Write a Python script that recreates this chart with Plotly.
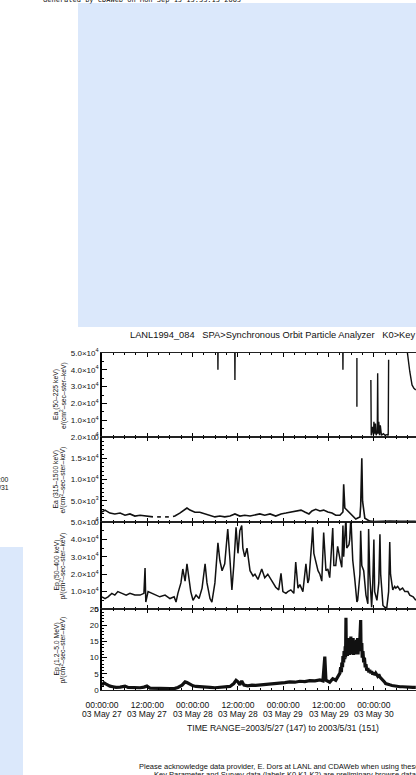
import pandas as pd
import plotly.graph_objects as go

W, H = 416, 775
BASE = pd.Timestamp("2003-05-27 00:00:00")

# ---------------- data (hours after 2003-05-27 00:00, flux) ----------------
ea1_hours = [0.0, 30.6, 30.7, 30.8, 35.1, 35.2, 35.3, 63.7, 63.8, 63.9, 64.0, 67.5, 67.5, 67.6,
             71.2, 71.3, 71.6, 71.9, 72.0, 72.2, 72.4, 72.6, 72.9, 73.0, 73.1, 73.3, 73.5, 73.7,
             74.0, 74.5, 75.0, 75.5, 75.8, 75.9, 76.0, 80.6, 81.0, 81.5, 82.1, 82.6, 83.1]
ea1_values = [7e4, 7e4, 4.0e4, 7e4, 7e4, 3.4e4, 7e4, 7e4, 4.0e4, 7e4, None, 4.7e4, 1.8e4, None,
              3.4e4, 0.1e4, 0.6e4, 0.1e4, 0.9e4, 0.2e4, 0.8e4, 0.1e4, 0.3e4, 3.8e4, 0.2e4, 0.9e4, 0.1e4, 0.7e4,
              0.1e4, 0.2e4, 0.1e4, 0.15e4, 0.1e4, 4.6e4, None, 5.5e4, 4.6e4, 3.9e4, 3.1e4, 2.9e4, 2.8e4]

ea2_hours = [0.0, 0.8, 2.1, 3.4, 4.8, 6.1, 7.4, 8.7, 10.1, 11.4, 12.7, 13.5, 13.8, 14.6, 15.6, 15.9,
             16.7, 17.7, 18.0, 18.8, 19.3, 20.6, 22.0, 22.5, 23.3, 24.6, 25.9, 27.3, 28.6, 29.9,
             31.2, 32.5, 33.9, 35.2, 36.5, 37.8, 39.2, 40.5, 41.8, 43.1, 44.5, 46.0, 47.4, 48.7,
             50.0, 51.3, 52.7, 53.7, 54.8, 55.6, 56.6, 57.7, 58.7, 59.8, 60.9, 61.9, 63.0, 63.8,
             64.0, 64.3, 65.1, 66.2, 67.2, 68.3, 68.5, 68.8, 69.0, 69.6, 70.9, 72.2, 73.6, 76.2,
             78.9, 81.5, 83.1]
ea2_values = [2350, 2800, 2100, 1900, 2100, 1600, 1900, 1400, 1600, 1400, 1200, 1200, None, 1200, 1200, None,
              1200, 1200, None, 1300, 1400, 2100, 3000, 3300, 2800, 2300, 2300, 1900, 1400, 1200,
              1400, 1200, 1400, 1900, 1400, 1600, 1400, 1600, 1900, 1600, 1900, 1400, 1900, 2100,
              2350, 2600, 2800, 2350, 1900, 2600, 3000, 2600, 2800, 2350, 2100, 1600, 1600, 2350,
              8900, 3300, 2600, 1600, 700, 1200, 3800, 15000, 4900, 900, 200, 100, 150, 200,
              150, 200, 150]

ep1_hours = [0.0, 0.8, 1.6, 2.6, 3.4, 4.2, 5.3, 6.4, 7.4, 8.7, 10.1, 11.1, 11.4, 11.6, 12.2, 13.2,
             14.3, 15.3, 16.7, 18.0, 19.1, 19.6, 20.1, 20.9, 21.4, 22.0, 22.5, 23.0, 23.5, 24.1,
             24.9, 25.7, 26.5, 27.3, 27.8, 28.6, 29.1, 29.9, 30.7, 31.2, 31.8, 32.5, 33.3, 33.9,
             34.4, 34.9, 35.5, 36.0, 36.5, 37.0, 37.3, 37.8, 38.4, 39.2, 40.0, 40.5, 41.3, 42.3,
             43.1, 43.9, 44.5, 45.2, 46.0, 46.8, 47.4, 47.9, 48.7, 49.2, 50.0, 50.8, 51.3, 51.9,
             52.4, 53.2, 54.0, 54.5, 54.8, 55.6, 55.8, 56.1, 56.6, 57.2, 57.7, 58.2, 58.7, 59.3,
             59.8, 60.3, 61.1, 61.4, 61.9, 62.4, 63.0, 63.5, 63.8, 64.0, 64.6, 64.8, 65.4, 65.6,
             65.9, 66.2, 66.4, 66.9, 67.2, 67.5, 67.7, 68.3, 68.5, 68.8, 69.3, 69.9, 70.4, 70.6,
             70.9, 71.4, 71.7, 72.0, 72.2, 72.8, 73.3, 73.6, 73.8, 74.4, 74.9, 75.4, 75.9, 76.2,
             76.4, 77.0, 77.5, 77.8, 78.3, 78.9, 79.6, 80.2, 81.0, 81.5, 82.4, 83.1]
ep1_values = [0.7, 0.6, 0.7, 0.9, 0.8, 1.0, 0.9, 0.8, 0.9, 0.8, 0.8, 0.9, 2.35, 0.4, 1.0, 0.9,
              0.8, 0.7, 0.8, 0.6, 0.7, 0.4, 0.9, 1.5, 2.3, 1.6, 2.6, 1.9, 1.0, 0.5,
              0.8, 0.6, 1.2, 2.6, 1.5, 0.6, 0.4, 1.5, 3.8, 2.8, 2.2, 2.6, 4.6, 2.8,
              1.1, 2.5, 4.7, 3.2, 4.5, 4.8, 3.5, 3.0, 3.5, 2.2, 1.9, 2.0, 1.7, 2.3,
              1.8, 2.0, 1.8, 1.5, 1.25, 1.1, 2.05, 1.0, 0.9, 1.0, 1.1, 0.9, 2.7, 1.2,
              1.4, 1.0, 2.6, 1.5, 1.7, 4.0, 4.7, 3.2, 2.8, 2.2, 2.0, 1.6, 4.4, 2.2,
              2.3, 1.8, 4.65, 2.5, 2.5, 3.6, 2.9, 2.4, 4.8, 3.0, 5.3, 3.5, 3.7, 4.0,
              5.3, 3.5, 2.8, 1.8, 0.9, 0.4, 0.5, 2.0, 4.5, 2.5, 2.2, 0.8, 0.3, 4.6,
              2.0, 0.1, 1.5, 4.0, 1.0, 0.5, 1.5, 4.3, 2.0, 0.2, 0.1, 0.05, 1.0, 3.85,
              2.0, 1.1, 1.3, 1.2, 1.3, 1.1, 1.2, 1.0, 1.0, 0.8, 0.7, 0.5]
ep1_values = [v * 1e4 for v in ep1_values]

ep2_hours = [0.0, 0.5, 1.1, 2.1, 2.9, 3.7, 4.8, 6.1, 6.9, 7.9, 9.0, 10.1, 11.1, 11.9, 12.7, 14.0,
             15.3, 16.7, 18.0, 19.3, 20.1, 21.2, 22.0, 22.5, 23.3, 24.1, 24.9, 25.9, 27.3, 28.6,
             29.9, 31.2, 32.5, 33.9, 34.9, 35.5, 36.0, 36.5, 37.0, 37.6, 38.6, 39.7, 40.7, 41.8,
             43.1, 44.5, 45.8, 47.1, 48.4, 49.7, 51.1, 52.4, 53.7, 55.0, 56.4, 57.7, 58.5, 59.0,
             59.3, 60.3, 61.1, 61.9, 62.4, 63.0, 63.2, 63.4, 63.5, 63.7, 63.8, 64.0, 64.1, 64.3,
             64.4, 64.5, 64.6, 64.7, 64.8, 65.0, 65.1, 65.3, 65.4, 65.5, 65.6, 65.8, 65.9, 66.0,
             66.2, 66.3, 66.5, 66.6, 66.8, 66.9, 67.1, 67.2, 67.4, 67.5, 67.7, 67.8, 68.0, 68.1,
             68.3, 68.5, 68.6, 68.8, 68.9, 69.1, 69.3, 69.5, 69.7, 69.9, 70.1, 70.4, 70.6, 70.9,
             71.1, 71.4, 71.7, 72.0, 72.2, 72.5, 73.0, 73.3, 73.6, 74.0, 74.4, 74.8, 75.1, 75.6,
             76.2, 76.8, 77.5, 78.2, 78.9, 79.6, 80.2, 80.9, 81.5, 82.3, 83.1]
ep2_values = [1.5, 2.2, 1.8, 1.2, 1.0, 0.8, 0.9, 1.2, 0.8, 0.7, 0.8, 0.7, 0.9, 1.2, 0.6, 0.5,
              0.4, 0.4, 0.4, 0.5, 0.8, 1.5, 2.5, 2.3, 1.8, 1.3, 1.1, 1.0, 0.7, 0.8,
              0.7, 0.8, 0.9, 1.1, 2.0, 3.0, 2.5, 1.6, 2.8, 1.5, 1.3, 1.5, 1.4, 1.5,
              1.6, 1.8, 1.9, 2.2, 2.3, 2.5, 2.4, 2.7, 2.6, 2.9, 2.8, 3.1, 2.8, 10.3,
              3.0, 2.4, 3.5, 3.0, 4.2, 5.2, 7.0, 5.5, 8.5, 7.0, 10.5, 8.5, 12.0, 9.5,
              13.5, 10.0, 22.3, 11.0, 15.5, 10.5, 14.5, 11.0, 16.0, 10.8, 14.8, 11.2, 16.5, 11.0,
              15.0, 11.5, 16.0, 10.8, 15.2, 11.5, 14.8, 11.0, 15.5, 11.5, 16.0, 11.0, 15.0, 12.0,
              16.2, 21.6, 12.5, 14.5, 10.0, 12.0, 8.5, 10.0, 7.0, 8.0, 6.0, 6.8, 5.5, 6.2,
              5.2, 5.8, 4.8, 5.4, 4.6, 5.2, 4.3, 4.8, 4.0, 3.6, 3.0, 2.5, 2.0, 1.9,
              1.6, 1.4, 1.2, 1.1, 1.0, 1.0, 0.9, 0.8, 0.8, 0.8, 0.8]

# tick labels
x_tick_hours = [0, 12, 24, 36, 48, 60, 72]
x_tick_time = ["00:00:00", "12:00:00", "00:00:00", "12:00:00", "00:00:00", "12:00:00", "00:00:00"]
x_tick_date = ["03 May 27", "03 May 27", "03 May 28", "03 May 28", "03 May 29", "03 May 29", "03 May 30"]
ea1_ticks = [0, 1e4, 2e4, 3e4, 4e4, 5e4]
ea1_ticktext = ["0", "1.0×10<sup>4</sup>", "2.0×10<sup>4</sup>", "3.0×10<sup>4</sup>",
                "4.0×10<sup>4</sup>", "5.0×10<sup>4</sup>"]
ea2_ticks = [0, 5e3, 1e4, 1.5e4, 2e4]
ea2_ticktext = ["0", "5.0×10<sup>3</sup>", "1.0×10<sup>4</sup>", "1.5×10<sup>4</sup>",
                "2.0×10<sup>4</sup>"]
ep1_ticks = ea1_ticks
ep1_ticktext = ea1_ticktext
ep2_ticks = [0, 5, 10, 15, 20, 25]
ep2_ticktext = ["0", "5", "10", "15", "20", "25"]

panel_labels = [
    ("Ea (50–225 keV)", "e/(cm<sup>2</sup>–sec–ster–keV)"),
    ("Ea (315–1500 keV)", "e/(cm<sup>2</sup>–sec–ster–keV)"),
    ("Ep (50–400 keV)", "p/(cm<sup>2</sup>–sec–ster–keV)"),
    ("Ep (1.2–5.0 MeV)", "p/(cm<sup>2</sup>–sec–ster–keV)"),
]


def times(hours):
    return [BASE + pd.Timedelta(hours=h) for h in hours]


def px(x):
    return x / W


def py(y):
    return 1 - y / H


FONT = "Liberation Sans, Arial, sans-serif"
INK = "#111"

# panel geometry (pixel rows)
panels = [(353, 437), (437, 522), (522, 609), (609, 690)]
series = [(ea1_hours, ea1_values, 1.4), (ea2_hours, ea2_values, 1.6),
          (ep1_hours, ep1_values, 1.5), (ep2_hours, ep2_values, 3.2)]
yticks = [(ea1_ticks, ea1_ticktext, [0, 5.0e4], 5e3), (ea2_ticks, ea2_ticktext, [0, 2.0e4], 1e3),
          (ep1_ticks, ep1_ticktext, [0, 5.0e4], 5e3), (ep2_ticks, ep2_ticktext, [0, 25], 1)]

fig = go.Figure()
x_end = BASE + pd.Timedelta(hours=83.15)

for i, ((top, bot), (hrs, vals, lw), (tv, tt, yr, mdt)) in enumerate(zip(panels, series, yticks)):
    n = "" if i == 0 else str(i + 1)
    fig.add_trace(go.Scatter(x=times(hrs), y=vals, mode="lines",
                             line=dict(color=INK, width=lw),
                             connectgaps=False, showlegend=False,
                             xaxis="x" + n, yaxis="y" + n, hoverinfo="skip"))
    last = i == 3
    fig.layout["xaxis" + n] = dict(
        domain=[px(102), 1.0], anchor="y" + n, range=[BASE, x_end],
        type="date", showgrid=False, zeroline=False, automargin=False,
        showline=True, linecolor="#222", linewidth=1.2, mirror="ticks",
        ticks="inside", ticklen=4, tickcolor="black", tickwidth=1,
        tickvals=times(x_tick_hours), ticktext=x_tick_time,
        showticklabels=last, ticklabelstandoff=7,
        tickfont=dict(family=FONT, size=8.5, color=INK),
        minor=dict(tickvals=times(list(range(0, 84, 3))), ticks="inside",
                   ticklen=2, tickcolor="black"),
    )
    fig.layout["yaxis" + n] = dict(
        domain=[py(bot), py(top)], anchor="x" + n, range=yr,
        showgrid=False, zeroline=False, automargin=False,
        showline=True, linecolor="black", linewidth=1.6, mirror=False,
        ticks="inside", ticklen=5, tickcolor="black", tickwidth=1,
        tickvals=tv, ticktext=tt,
        tickfont=dict(family=FONT, size=8, color=INK),
        minor=dict(dtick=mdt, ticks="inside", ticklen=2, tickcolor="black"),
    )
    for j, (line_txt, xpos) in enumerate(zip(panel_labels[i], (56, 63))):
        fig.add_annotation(xref="paper", yref="paper", x=px(xpos), y=py((top + bot) / 2),
                           text=line_txt, textangle=-90, showarrow=False,
                           font=dict(family=FONT, size=6.8, color=INK),
                           xanchor="center", yanchor="middle")

# second line of the time-axis labels (dates)
for h, d in zip(times(x_tick_hours), x_tick_date):
    fig.add_annotation(xref="x4", yref="paper", x=h, y=py(713.5), text=d, showarrow=False,
                       xanchor="center", yanchor="middle",
                       font=dict(family=FONT, size=8.5, color=INK))

# page background panels
fig.add_shape(type="rect", xref="paper", yref="paper", x0=px(78), x1=1.0, y0=py(327), y1=py(3),
              fillcolor="#dbe8fb", line=dict(width=0), layer="below")
fig.add_shape(type="rect", xref="paper", yref="paper", x0=0, x1=px(23), y0=0, y1=py(547),
              fillcolor="#dbe8fb", line=dict(width=0), layer="below")

texts = [
    ("Generated by CDAWeb on Mon Sep 15 15:53:15 2003", 41, 0.0, "left", "DejaVu Sans Mono, monospace", 7),
    ("LANL1994_084   SPA>Synchronous Orbit Particle Analyzer   K0>Key Parameter", 128, 335, "left", FONT, 9.3),
    ("TIME RANGE=2003/5/27 (147) to 2003/5/31 (151)", 185, 728, "left", FONT, 8.6),
    ("Please acknowledge data provider, E. Dors at LANL and CDAWeb when using these data.", 137, 766, "left", FONT, 7.5),
    ("Key Parameter and Survey data (labels K0,K1,K2) are preliminary browse data.", 152, 774, "left", FONT, 7.5),
    ("Generated by CDAWeb on Mon Sep 15 15:53:15 2003", 200, 782, "left", FONT, 7.5),
    ("2003/05/27 00:00:00", 11, 479, "right", FONT, 6.8),
    ("to 2003/05/31", 11, 487, "right", FONT, 6.8),
]
for txt, x, y, anc, fam, sz in texts:
    fig.add_annotation(xref="paper", yref="paper", x=px(x), y=py(y), text=txt, showarrow=False,
                       xanchor=anc, yanchor="middle", font=dict(family=fam, size=sz, color=INK))

fig.update_layout(width=W, height=H,
                  margin=dict(l=0, r=0, t=0, b=0, pad=0, autoexpand=False),
                  paper_bgcolor="white", plot_bgcolor="rgba(0,0,0,0)")
fig.write_html("out.html")
